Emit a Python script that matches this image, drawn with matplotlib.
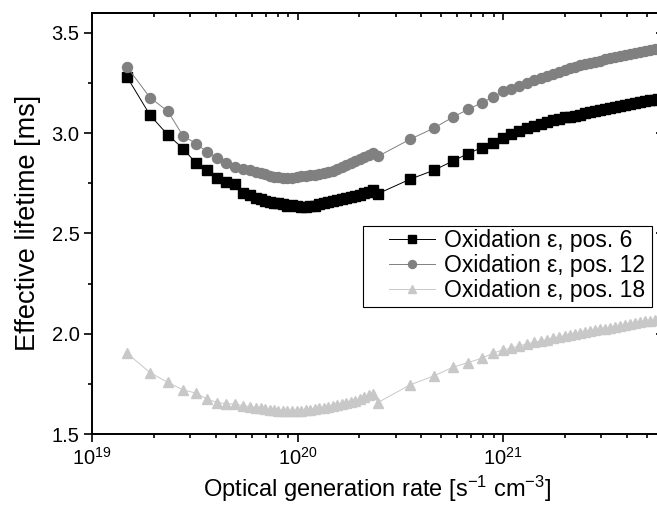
import matplotlib
matplotlib.use("Agg")
import matplotlib.pyplot as plt
from matplotlib.patches import Rectangle
from matplotlib.ticker import LogLocator, MultipleLocator, FormatStrFormatter, NullFormatter

plt.rcParams['font.family'] = ['Liberation Sans', 'DejaVu Sans']
plt.rcParams['mathtext.fontset'] = 'custom'
plt.rcParams['mathtext.rm'] = 'Liberation Sans'
plt.rcParams['mathtext.it'] = 'Liberation Sans:italic'

# generation rate (s^-1 cm^-3), shared by the three measurements
gen_rate = [
    1.48e19, 1.915e19, 2.343e19, 2.772e19, 3.208e19, 3.627e19, 4.058e19, 4.488e19,
    4.965e19, 5.429e19, 5.873e19,
    6.283e19, 6.607e19, 6.948e19, 7.307e19, 7.684e19, 8.080e19, 8.497e19, 8.936e19,
    9.401e19, 9.888e19, 1.040e20, 1.094e20, 1.150e20, 1.210e20, 1.272e20, 1.338e20,
    1.407e20, 1.480e20, 1.556e20, 1.637e20, 1.722e20, 1.811e20, 1.905e20, 2.003e20,
    2.107e20, 2.216e20, 2.330e20,
    2.464e20,
    3.527e20, 4.616e20, 5.711e20, 6.756e20, 7.903e20, 8.941e20, 1.000e21,
    1.094e21, 1.196e21, 1.309e21, 1.415e21, 1.531e21, 1.637e21, 1.751e21, 1.873e21,
    2.003e21, 2.118e21, 2.241e21, 2.370e21, 2.506e21, 2.651e21, 2.803e21, 2.965e21,
    3.135e21, 3.316e21, 3.507e21, 3.709e21, 3.923e21, 4.150e21, 4.389e21, 4.642e21,
    4.909e21, 5.193e21, 5.492e21, 5.679e21,
]

# effective lifetime (ms)
tau_pos6 = [
    3.28, 3.09, 2.99, 2.923, 2.85, 2.815, 2.774, 2.757, 2.745, 2.70, 2.69,
    2.675, 2.670, 2.662, 2.655, 2.650, 2.652, 2.645, 2.636, 2.640, 2.638, 2.632,
    2.632, 2.634, 2.638, 2.644, 2.650, 2.655, 2.660, 2.665, 2.670, 2.676, 2.681,
    2.686, 2.692, 2.700, 2.708, 2.714,
    2.698,
    2.770, 2.815, 2.861, 2.898, 2.928, 2.951, 2.976,
    2.997, 3.010, 3.023, 3.033, 3.045, 3.055, 3.063, 3.071, 3.078, 3.082, 3.087,
    3.092, 3.098, 3.104, 3.109, 3.114, 3.119, 3.124, 3.128, 3.133, 3.138, 3.143,
    3.148, 3.154, 3.159, 3.163, 3.167, 3.169,
]
tau_pos12 = [
    3.33, 3.177, 3.108, 2.986, 2.948, 2.906, 2.878, 2.851, 2.831, 2.823, 2.815,
    2.806, 2.800, 2.794, 2.788, 2.783, 2.780, 2.778, 2.776, 2.778, 2.781, 2.784,
    2.786, 2.789, 2.791, 2.794, 2.799, 2.805, 2.813, 2.822, 2.831, 2.841, 2.851,
    2.860, 2.870, 2.882, 2.893, 2.902,
    2.884,
    2.969, 3.025, 3.080, 3.118, 3.152, 3.180, 3.208,
    3.218, 3.235, 3.252, 3.264, 3.276, 3.285, 3.295, 3.305, 3.316, 3.324, 3.330,
    3.337, 3.344, 3.350, 3.355, 3.361, 3.367, 3.373, 3.379, 3.384, 3.390, 3.396,
    3.401, 3.406, 3.410, 3.414, 3.418, 3.420,
]
tau_pos18 = [
    1.903, 1.806, 1.757, 1.720, 1.704, 1.674, 1.657, 1.651, 1.649, 1.641, 1.637,
    1.632, 1.628, 1.624, 1.620, 1.618, 1.616, 1.615, 1.614, 1.614, 1.615, 1.616,
    1.618, 1.621, 1.624, 1.628, 1.632, 1.636, 1.641, 1.646, 1.651, 1.656, 1.661,
    1.667, 1.673, 1.685, 1.693, 1.700,
    1.657,
    1.745, 1.790, 1.833, 1.856, 1.878, 1.903, 1.919,
    1.928, 1.939, 1.949, 1.957, 1.964, 1.970, 1.977, 1.984, 1.990, 1.993, 1.997,
    2.002, 2.007, 2.012, 2.017, 2.021, 2.025, 2.030, 2.034, 2.039, 2.044, 2.049,
    2.053, 2.058, 2.062, 2.065, 2.068, 2.070,
]

labels = ['Oxidation ε, pos. 6', 'Oxidation ε, pos. 12', 'Oxidation ε, pos. 18']

fig = plt.figure(figsize=(6.57, 5.16), dpi=100)
# right edge of the frame sits just past the canvas
ax = fig.add_axes([0.1400, 0.1589, 0.8691, 0.8165])

ax.plot(gen_rate, tau_pos6, '-s', color='black', lw=0.7, ms=6.5, mec='black', label=labels[0])
ax.plot(gen_rate, tau_pos12, '-o', color='#808080', lw=0.7, ms=7.2, mec='#808080', label=labels[1])
ax.plot(gen_rate, tau_pos18, '-^', color='#c8c8c8', lw=0.7, ms=7.5, mec='#c8c8c8', label=labels[2])

ax.set_xscale('log')
ax.set_xlim(1e19, 6e21)
ax.set_ylim(1.5, 3.6)

ax.xaxis.set_major_locator(LogLocator(base=10, numticks=10))
ax.xaxis.set_minor_locator(LogLocator(base=10, subs=range(2, 10), numticks=20))
ax.xaxis.set_minor_formatter(NullFormatter())
ax.yaxis.set_major_locator(MultipleLocator(0.5))
ax.yaxis.set_minor_locator(MultipleLocator(0.25))
ax.yaxis.set_major_formatter(FormatStrFormatter('%.1f'))

for sp in ax.spines.values():
    sp.set_linewidth(1.4)

ax.tick_params(which='major', direction='out', length=5.5, width=1.2, labelsize=14.5, pad=3.5)
ax.tick_params(which='minor', direction='out', length=3.2, width=1.2)
ax.tick_params(axis='x', which='major', pad=4)

# mirrored ticks pointing inward on top and right
top = ax.secondary_xaxis('top')
top.tick_params(which='major', direction='in', length=5, width=1.2, labeltop=False)
top.tick_params(which='minor', direction='in', length=3.2, width=1.2)
top.xaxis.set_major_formatter(NullFormatter())
top.xaxis.set_minor_formatter(NullFormatter())
top.spines['top'].set_linewidth(1.4)

right = ax.secondary_yaxis('right')
right.yaxis.set_major_locator(MultipleLocator(0.5))
right.yaxis.set_minor_locator(MultipleLocator(0.25))
right.tick_params(which='major', direction='in', length=5, width=1.2, labelright=False)
right.tick_params(which='minor', length=0)

ax.set_xlabel('Optical generation rate [s$^{-1}$ cm$^{-3}$]', fontsize=17)
ax.set_ylabel('Effective lifetime [ms]', fontsize=19.5)
ax.xaxis.set_label_coords(0.5, -0.095)
ax.yaxis.set_label_coords(-0.089, 0.5)

# legend entries without frame; the box is drawn separately with wider side padding
leg = ax.legend(loc='upper left', bbox_to_anchor=(386 / 657, 1 - 226 / 516),
                bbox_transform=fig.transFigure, fontsize=16.5, handlelength=2.0,
                handletextpad=0.4, borderpad=0.12, labelspacing=0.1,
                markerscale=0.8, frameon=False, borderaxespad=0)
fig.add_artist(Rectangle((363 / 657, 1 - 307 / 516), (652 - 363) / 657, (307 - 226) / 516,
                         transform=fig.transFigure, facecolor='none',
                         edgecolor='black', linewidth=0.8, zorder=5))

fig.savefig('out.png', dpi=100)
